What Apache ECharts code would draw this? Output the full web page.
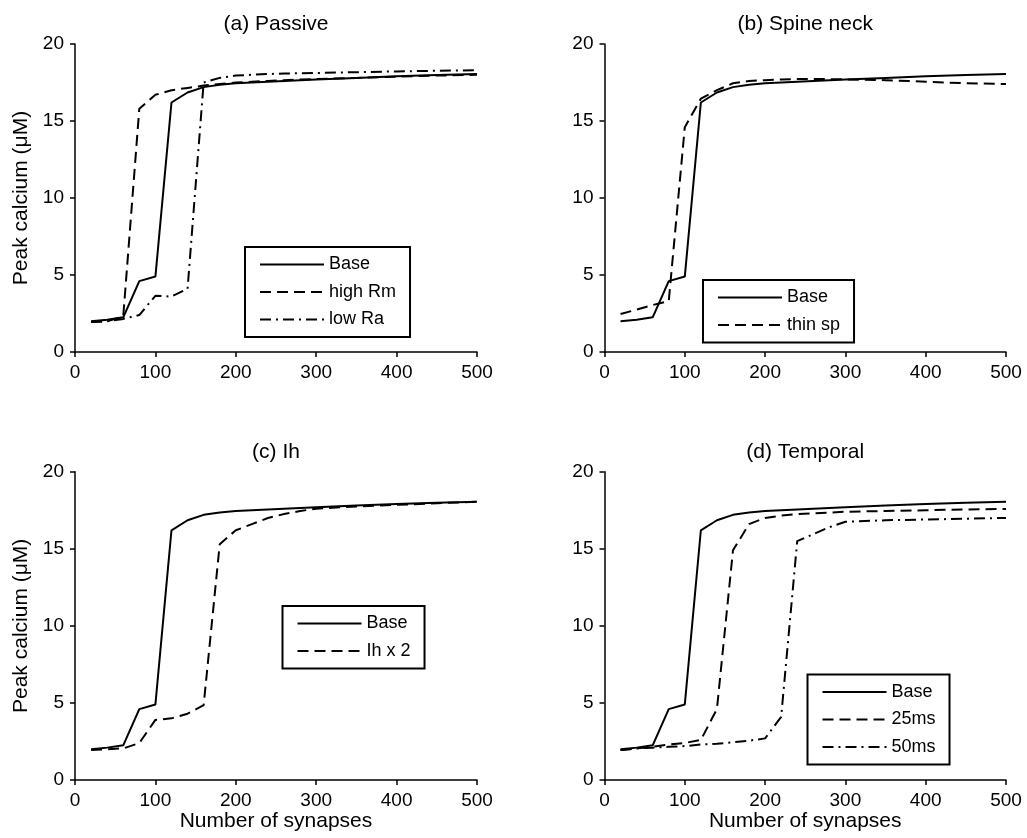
<!DOCTYPE html>
<html>
<head>
<meta charset="utf-8">
<script src="https://cdn.jsdelivr.net/npm/echarts@6/dist/echarts.min.js"></script>
<style>
html,body{margin:0;padding:0;background:#fff;}
#chart{width:1027px;height:838px;}
</style>
</head>
<body>
<div id="chart"></div>
<script>
// Number of synapses (x values shared by all series)
const synapses = [20, 40, 60, 80, 100, 120, 140, 160, 180, 200, 220, 240, 260, 280, 300, 350, 400, 450, 500];

// Peak calcium (uM)
const base    = [2.0, 2.1, 2.25, 4.6, 4.9, 16.2, 16.85, 17.2, 17.35, 17.45, 17.5, 17.55, 17.6, 17.65, 17.7, 17.8, 17.9, 17.98, 18.05];
const highRm  = [1.95, 2.0, 2.3, 15.8, 16.7, 17.0, 17.15, 17.3, 17.4, 17.5, 17.55, 17.6, 17.65, 17.7, 17.72, 17.8, 17.88, 17.95, 18.0];
const lowRa   = [1.95, 2.0, 2.15, 2.4, 3.65, 3.6, 4.1, 17.5, 17.8, 17.95, 18.0, 18.05, 18.08, 18.1, 18.12, 18.17, 18.22, 18.26, 18.3];
const thinSp  = [2.47, 2.75, 3.05, 3.3, 14.6, 16.45, 17.0, 17.45, 17.6, 17.65, 17.7, 17.72, 17.72, 17.72, 17.7, 17.65, 17.55, 17.45, 17.4];
const ihX2    = [1.95, 2.0, 2.05, 2.4, 3.9, 4.0, 4.3, 4.85, 15.3, 16.2, 16.6, 17.0, 17.25, 17.45, 17.6, 17.75, 17.85, 17.95, 18.05];
const ms25    = [1.95, 2.05, 2.15, 2.3, 2.4, 2.6, 4.6, 14.9, 16.6, 17.0, 17.15, 17.25, 17.3, 17.35, 17.4, 17.45, 17.5, 17.55, 17.58];
const ms50    = [1.95, 2.05, 2.1, 2.15, 2.2, 2.3, 2.35, 2.45, 2.55, 2.7, 4.1, 15.5, 15.95, 16.4, 16.75, 16.85, 16.9, 16.95, 17.0];

const panelTitles = ['(a) Passive', '(b) Spine neck', '(c) Ih', '(d) Temporal'];
const yTitle = 'Peak calcium (\u03bcM)';
const xTitle = 'Number of synapses';

const FONT = '"Liberation Sans", Arial, Helvetica, sans-serif';
const SOLID = 'solid';
const DASH = [11, 6];
const DASHDOT = [11, 5, 2, 5];

const grids = [
  {left: 75, top: 44, width: 402, height: 308},
  {left: 604.5, top: 44, width: 401.5, height: 308},
  {left: 75, top: 471.7, width: 402, height: 308.3},
  {left: 604.5, top: 471.7, width: 401.5, height: 308.3}
];

function pts(ys) { return synapses.map((x, i) => [x, ys[i]]); }

const panels = [
  [['Base', base, SOLID], ['high Rm', highRm, DASH], ['low Ra', lowRa, DASHDOT]],
  [['Base', base, SOLID], ['thin sp', thinSp, DASH]],
  [['Base', base, SOLID], ['Ih x 2', ihX2, DASH]],
  [['Base', base, SOLID], ['25ms', ms25, DASH], ['50ms', ms50, DASHDOT]]
];

const legendPos = [
  {left: 245, top: 247},
  {left: 703, top: 280},
  {left: 282.5, top: 606},
  {left: 807.5, top: 674.5}
];

const axisStyle = {lineStyle: {color: '#000', width: 1.5}};
const labelStyle = {color: '#000', fontSize: 19, fontFamily: FONT};

const xAxes = [], yAxes = [], series = [], legends = [], titles = [];
grids.forEach((g, i) => {
  xAxes.push({
    gridIndex: i, type: 'value', min: 0, max: 500, interval: 100,
    axisLine: axisStyle, axisTick: {show: true, length: 5, lineStyle: {color: '#000', width: 1.5}},
    axisLabel: Object.assign({margin: 11}, labelStyle),
    splitLine: {show: false},
    name: i >= 2 ? xTitle : '', nameLocation: 'middle', nameGap: 24,
    nameTextStyle: {color: '#000', fontSize: 21, fontFamily: FONT}
  });
  yAxes.push({
    gridIndex: i, type: 'value', min: 0, max: 20, interval: 5,
    axisLine: axisStyle, axisTick: {show: true, length: 5, lineStyle: {color: '#000', width: 1.5}},
    axisLabel: Object.assign({margin: 11}, labelStyle),
    splitLine: {show: false},
    name: (i % 2 === 0) ? yTitle : '', nameLocation: 'middle', nameGap: 43,
    nameTextStyle: {color: '#000', fontSize: 21, fontFamily: FONT}
  });
  titles.push({
    text: panelTitles[i], left: g.left + g.width / 2, top: g.top - 30, textAlign: 'center', padding: 0,
    textStyle: {color: '#000', fontSize: 21, fontWeight: 'normal', fontFamily: FONT}
  });
  panels[i].forEach(([name, ys, type]) => {
    series.push({
      name: name, type: 'line', xAxisIndex: i, yAxisIndex: i,
      data: pts(ys), symbol: 'none', showSymbol: false, smooth: false,
      lineStyle: {color: '#000', width: 2, type: type},
      itemStyle: {color: '#000'}
    });
  });
  legends.push({
    orient: 'vertical', left: legendPos[i].left, top: legendPos[i].top,
    data: panels[i].map(p => p[0]),
    itemWidth: 64, itemHeight: 14, itemGap: 7.5,
    padding: [7.5, 14, 7.5, 14],
    borderColor: '#000', borderWidth: 2, borderRadius: 0, backgroundColor: '#fff',
    selectedMode: false,
    itemStyle: {color: 'rgba(0,0,0,0)', borderColor: 'rgba(0,0,0,0)', borderWidth: 0, opacity: 0},
    textStyle: {color: '#000', fontSize: 18, fontFamily: FONT, lineHeight: 20}
  });
});

const chart = echarts.init(document.getElementById('chart'), null, {renderer: 'canvas'});
chart.setOption({
  animation: false,
  backgroundColor: '#fff',
  title: titles,
  grid: grids,
  xAxis: xAxes,
  yAxis: yAxes,
  legend: legends,
  series: series
});
</script>
</body>
</html>
